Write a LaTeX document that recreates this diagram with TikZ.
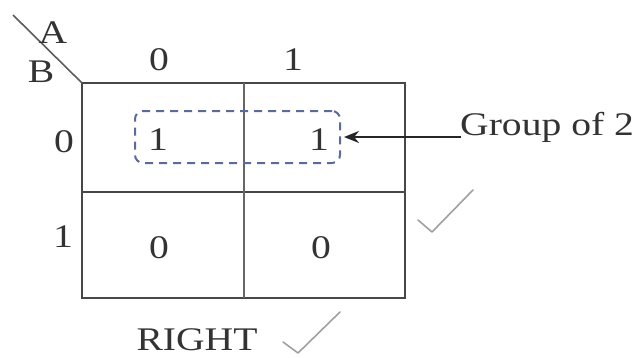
\documentclass[tikz,border=0pt]{standalone}
\usepackage{fontspec}
\usepackage{graphicx}
\setmainfont{Liberation Serif}
\usetikzlibrary{arrows.meta}
\newcommand{\widetext}[1]{\scalebox{1.2}[1]{#1}}
\definecolor{ink}{HTML}{333333}
\definecolor{dashblue}{HTML}{5A6A9C}
\definecolor{tick}{HTML}{A0A0A0}
\tikzset{
  lbl/.style={font=\fontsize{33}{36}\selectfont, text=ink, inner sep=0pt},
  gridline/.style={draw=ink!90, line width=2pt},
  groupbox/.style={draw=dashblue, line width=2pt, dash pattern=on 8pt off 6pt, rounded corners=8pt, minimum width=205pt, minimum height=52pt, inner sep=0pt},
  pointer/.style={draw=black!85, line width=2.2pt, -{Stealth[length=15pt,width=12pt]}},
  checkmark/.style={draw=tick, line width=1.6pt, line cap=round, line join=round}
}
\begin{document}
\begin{tikzpicture}[x=1pt,y=-1pt]
\useasboundingbox (0,0) rectangle (637,357);
% grid
\draw[gridline] (82,83) rectangle (405,298);
\draw[gridline] (82,192) -- (405,192);
\draw[gridline, draw=ink!75, line width=1.8pt] (244,83) -- (244,298);
\draw[draw=ink!80, line width=1.6pt] (13,15) -- (82,83);
% headers
\node[lbl, anchor=base] (A) at (53,43) {\widetext{A}};
\node[lbl, anchor=base] (B) at (41,82) {\widetext{B}};
\node[lbl, anchor=base] (c0) at (159,70) {\widetext{0}};
\node[lbl, anchor=base] (c1) at (293,70) {\widetext{1}};
\node[lbl, anchor=base] (r0) at (64,152) {\widetext{0}};
\node[lbl, anchor=base] (r1) at (63,247) {\widetext{1}};
% cells
\node[lbl, anchor=base] (m00) at (158,150) {\widetext{1}};
\node[lbl, anchor=base] (m01) at (319,150) {\widetext{1}};
\node[lbl, anchor=base] (m10) at (159,258) {\widetext{0}};
\node[lbl, anchor=base] (m11) at (321,258) {\widetext{0}};
% group
\node[groupbox] (grp) at (237.5,137) {};
\node[lbl, anchor=base west] (glabel) at (460,135) {\widetext{Group of 2}};
\coordinate (gstart) at (461,137);
\draw[pointer] (gstart) -- ([xshift=3pt]grp.east);
% bottom label
\node[lbl, anchor=base] (right) at (197,350) {\widetext{RIGHT}};
% check marks
\draw[checkmark] (418,220) -- (432,232) -- (473,190);
\draw[checkmark] (283,342) -- (298,353) -- (340,312);
\end{tikzpicture}
\end{document}
